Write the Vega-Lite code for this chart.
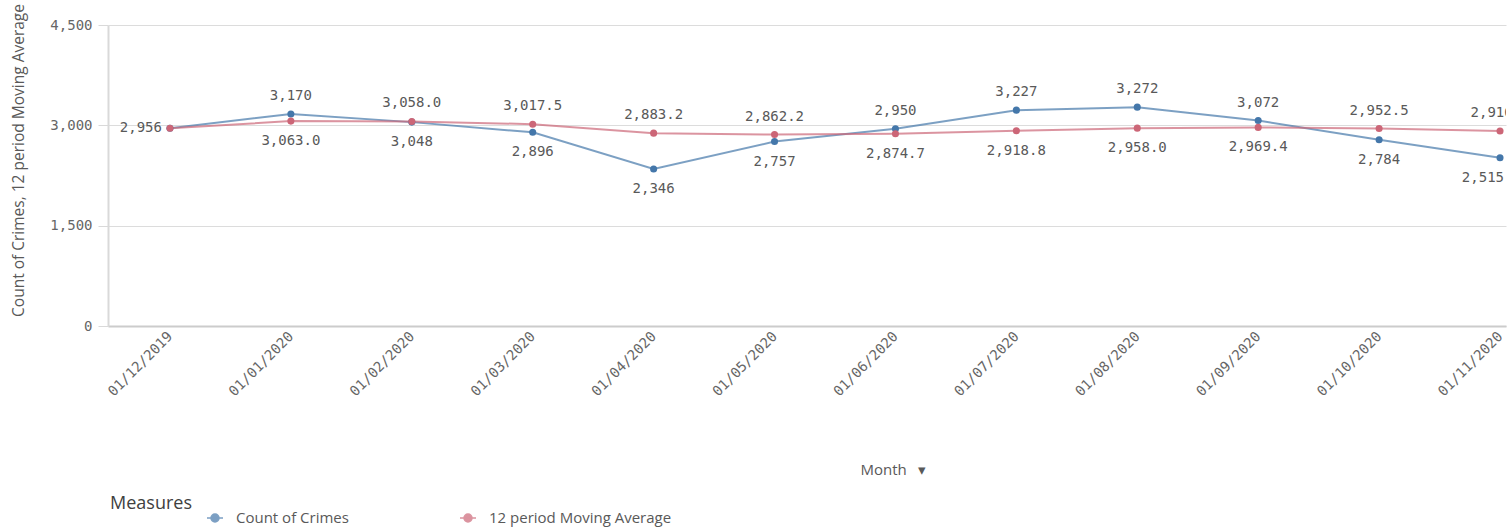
{
  "$schema": "https://vega.github.io/schema/vega-lite/v6.json",
  "width": 1398,
  "height": 301,
  "autosize": {"type": "none"},
  "padding": {"left": 108, "top": 25, "right": 5, "bottom": 203},
  "background": "white",
  "config": {"view": {"stroke": null}, "font": "Open Sans"},
  "data": {
    "values": [
      {"month": "01/12/2019", "measure": "Count of Crimes", "value": 2956},
      {"month": "01/01/2020", "measure": "Count of Crimes", "value": 3170},
      {"month": "01/02/2020", "measure": "Count of Crimes", "value": 3048},
      {"month": "01/03/2020", "measure": "Count of Crimes", "value": 2896},
      {"month": "01/04/2020", "measure": "Count of Crimes", "value": 2346},
      {"month": "01/05/2020", "measure": "Count of Crimes", "value": 2757},
      {"month": "01/06/2020", "measure": "Count of Crimes", "value": 2950},
      {"month": "01/07/2020", "measure": "Count of Crimes", "value": 3227},
      {"month": "01/08/2020", "measure": "Count of Crimes", "value": 3272},
      {"month": "01/09/2020", "measure": "Count of Crimes", "value": 3072},
      {"month": "01/10/2020", "measure": "Count of Crimes", "value": 2784},
      {"month": "01/11/2020", "measure": "Count of Crimes", "value": 2515},
      {"month": "01/12/2019", "measure": "12 period Moving Average", "value": 2956},
      {"month": "01/01/2020", "measure": "12 period Moving Average", "value": 3063.0},
      {"month": "01/02/2020", "measure": "12 period Moving Average", "value": 3058.0},
      {"month": "01/03/2020", "measure": "12 period Moving Average", "value": 3017.5},
      {"month": "01/04/2020", "measure": "12 period Moving Average", "value": 2883.2},
      {"month": "01/05/2020", "measure": "12 period Moving Average", "value": 2862.2},
      {"month": "01/06/2020", "measure": "12 period Moving Average", "value": 2874.7},
      {"month": "01/07/2020", "measure": "12 period Moving Average", "value": 2918.8},
      {"month": "01/08/2020", "measure": "12 period Moving Average", "value": 2958.0},
      {"month": "01/09/2020", "measure": "12 period Moving Average", "value": 2969.4},
      {"month": "01/10/2020", "measure": "12 period Moving Average", "value": 2952.5},
      {"month": "01/11/2020", "measure": "12 period Moving Average", "value": 2916.1}
    ]
  },
  "transform": [
    {"joinaggregate": [{"op": "max", "field": "value", "as": "vmax"}, {"op": "min", "field": "value", "as": "vmin"}], "groupby": ["month"]},
    {"calculate": "datum.measure === 'Count of Crimes' ? format(datum.value, ',') : format(datum.value, ',.1f')", "as": "label"}
  ],
  "encoding": {
    "x": {
      "field": "month",
      "type": "ordinal",
      "scale": {
        "type": "point",
        "domain": ["01/12/2019", "01/01/2020", "01/02/2020", "01/03/2020", "01/04/2020", "01/05/2020", "01/06/2020", "01/07/2020", "01/08/2020", "01/09/2020", "01/10/2020", "01/11/2020"],
        "padding": 0.281,
        "align": 0.912
      },
      "axis": {
        "title": "Month\u00a0\u00a0\u00a0▾",
        "titleFont": "Open Sans",
        "titleFontSize": 15,
        "titleFontWeight": "normal",
        "titleColor": "#595959",
        "titleX": 752,
        "titleY": 148,
        "titleAlign": "left",
        "titleBaseline": "alphabetic",
        "labelAngle": -45,
        "labelAlign": "right",
        "labelBaseline": "middle",
        "labelFont": "DejaVu Sans Mono",
        "labelFontSize": 14,
        "labelColor": "#666666",
        "labelPadding": 8,
        "ticks": false,
        "domainColor": "#cccccc",
        "domainWidth": 2,
        "grid": false
      }
    },
    "y": {
      "field": "value",
      "type": "quantitative",
      "scale": {"domain": [0, 4500], "nice": false},
      "axis": {
        "title": "Count of Crimes, 12 period Moving Average",
        "titleFont": "Open Sans",
        "titleFontSize": 15.5,
        "titleFontWeight": "normal",
        "titleColor": "#595959",
        "titleX": -90,
        "titleY": 135,
        "titleAngle": -90,
        "titleAlign": "center",
        "titleBaseline": "middle",
        "values": [0, 1500, 3000, 4500],
        "format": ",.0f",
        "labelFont": "DejaVu Sans Mono",
        "labelFontSize": 14,
        "labelColor": "#666666",
        "labelPadding": 6,
        "tickSize": 10,
        "tickColor": "#d9d9d9",
        "domainColor": "#d9d9d9",
        "domainWidth": 2,
        "grid": true,
        "gridColor": "#dcdcdc"
      }
    },
    "color": {
      "field": "measure",
      "type": "nominal",
      "scale": {"domain": ["Count of Crimes", "12 period Moving Average"], "range": ["#4477aa", "#cc6677"]},
      "legend": {
        "title": "Measures",
        "orient": "none",
        "direction": "horizontal",
        "legendX": 2,
        "legendY": 484,
        "titleOrient": "left",
        "titleAnchor": "start",
        "titleBaseline": "alphabetic",
        "titleFont": "Open Sans",
        "titleFontSize": 18,
        "titleFontWeight": "normal",
        "titleColor": "#404040",
        "titlePadding": 14,
        "labelFont": "Open Sans",
        "labelFontSize": 15,
        "labelColor": "#595959",
        "labelOffset": 12,
        "labelLimit": 400,
        "columnPadding": 108,
        "symbolType": "M-1,0L1,0M-0.5,0A0.5,0.5,0,1,1,0.5,0A0.5,0.5,0,1,1,-0.5,0Z",
        "symbolSize": 256,
        "encode": {
          "symbols": {
            "update": {
              "stroke": {"scale": "color", "field": "value"},
              "fill": {"scale": "color", "field": "value"},
              "strokeWidth": {"value": 2},
              "opacity": {"value": 1}
            }
          }
        }
      }
    }
  },
  "layer": [
    {"mark": {"type": "line", "strokeWidth": 2, "opacity": 0.7, "clip": true}},
    {"mark": {"type": "point", "filled": true, "size": 50, "opacity": 1, "clip": true}},
    {
      "transform": [{"filter": "datum.vmax != datum.vmin && datum.value == datum.vmax"}],
      "mark": {"type": "text", "font": "DejaVu Sans Mono", "fontSize": 14, "baseline": "middle", "dy": -18, "clip": true},
      "encoding": {"text": {"field": "label"}, "color": {"value": "#595959"}}
    },
    {
      "transform": [{"filter": "datum.vmax != datum.vmin && datum.value == datum.vmin && datum.month != '01/11/2020'"}],
      "mark": {"type": "text", "font": "DejaVu Sans Mono", "fontSize": 14, "baseline": "middle", "dy": 20, "clip": true},
      "encoding": {"text": {"field": "label"}, "color": {"value": "#595959"}}
    },
    {
      "transform": [{"filter": "datum.vmax != datum.vmin && datum.value == datum.vmin && datum.month == '01/11/2020'"}],
      "mark": {"type": "text", "font": "DejaVu Sans Mono", "fontSize": 14, "baseline": "middle", "align": "right", "dx": 4, "dy": 20, "clip": true},
      "encoding": {"text": {"field": "label"}, "color": {"value": "#595959"}}
    },
    {
      "transform": [{"filter": "datum.vmax == datum.vmin && datum.measure == 'Count of Crimes'"}],
      "mark": {"type": "text", "font": "DejaVu Sans Mono", "fontSize": 14, "baseline": "middle", "align": "right", "dx": -8, "clip": true},
      "encoding": {"text": {"field": "label"}, "color": {"value": "#595959"}}
    }
  ]
}
